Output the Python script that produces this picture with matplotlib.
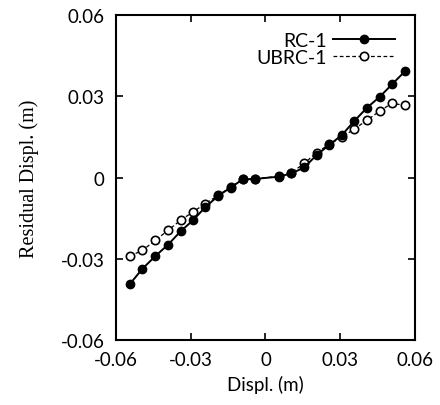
import matplotlib
matplotlib.use("Agg")
import matplotlib.pyplot as plt

displ = [-0.0544, -0.0494, -0.0442, -0.0391, -0.0341, -0.0291, -0.0241, -0.0190,
         -0.0140, -0.0091, -0.0040, 0.0053, 0.0104, 0.0156, 0.0205, 0.0256,
         0.0307, 0.0357, 0.0408, 0.0460, 0.0508, 0.0562]
rc1 = [-0.0393, -0.0337, -0.0290, -0.0248, -0.0199, -0.0158, -0.0109, -0.0068,
       -0.0037, -0.0007, -0.0005, 0.0003, 0.0015, 0.0037, 0.0083, 0.0120,
       0.0157, 0.0209, 0.0258, 0.0299, 0.0344, 0.0394]
ubrc1 = [-0.0290, -0.0269, -0.0232, -0.0195, -0.0158, -0.0127, -0.0096, -0.0066,
         -0.0036, -0.0006, -0.0004, 0.0004, 0.0018, 0.0052, 0.0092, 0.0122,
         0.0150, 0.0179, 0.0212, 0.0246, 0.0274, 0.0266]
ticks = [-0.06, -0.03, 0, 0.03, 0.06]
tick_labels = ["-0.06", "-0.03", "0", "0.03", "0.06"]

fig = plt.figure(figsize=(4.4, 4.06), dpi=100)
ax = fig.add_axes([0.2636, 0.160, 0.943 - 0.2636, 0.9606 - 0.160])

ax.plot(displ, ubrc1, linestyle=(0, (3, 2)), color="black", linewidth=0.9,
        marker="o", markersize=6, markerfacecolor="white", markeredgecolor="black",
        markeredgewidth=1.2, label="UBRC-1", zorder=2)
ax.plot(displ, rc1, linestyle="-", color="black", linewidth=1.4,
        marker="o", markersize=6, markerfacecolor="black", markeredgecolor="black",
        label="RC-1", zorder=3)

ax.set_xlim(-0.06, 0.06)
ax.set_ylim(-0.06, 0.06)
ax.set_xticks(ticks)
ax.set_yticks(ticks)
ax.set_xticklabels(tick_labels, fontsize=13.5, family="Lato")
ax.set_yticklabels(tick_labels, fontsize=13.5, family="Lato")
ax.tick_params(direction="in", length=5, width=1.2, top=True, right=True, pad=8)
for s in ax.spines.values():
    s.set_linewidth(1.5)

ax.set_xlabel("Displ. (m)", fontsize=13.5, family="Lato", labelpad=5)
ax.set_ylabel("Residual Displ. (m)", fontsize=14.5, family="Liberation Serif", labelpad=16)

h, l = ax.get_legend_handles_labels()
leg = ax.legend(h[::-1], l[::-1], loc="upper right", frameon=False, markerfirst=False,
                prop={"family": "Lato", "size": 14}, handlelength=3.2,
                borderaxespad=0.0, labelspacing=0.0, handletextpad=0.3,
                bbox_to_anchor=(0.96, 0.972))
for t in leg.get_texts():
    t.set_ha("right")

fig.savefig("out.png", dpi=100)
